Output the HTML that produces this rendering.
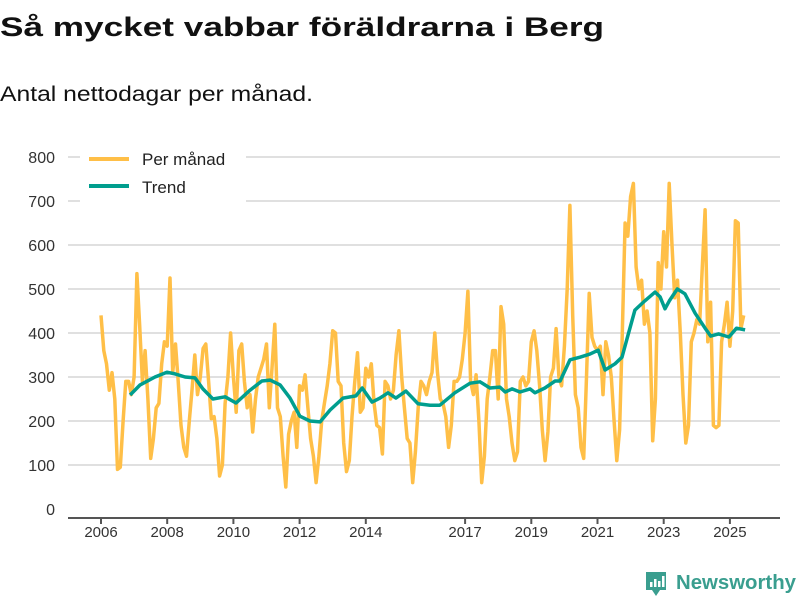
<!DOCTYPE html>
<html><head><meta charset="utf-8"><style>
body{margin:0;background:#fff;}
svg{display:block;font-family:"Liberation Sans",sans-serif;}
</style></head><body>
<svg id="chart" width="800" height="600" viewBox="0 0 800 600">
<text x="0" y="36" font-size="27" font-weight="bold" fill="#111" textLength="604" lengthAdjust="spacingAndGlyphs">Så mycket vabbar föräldrarna i Berg</text>
<text x="0" y="101" font-size="21" fill="#111" textLength="313" lengthAdjust="spacingAndGlyphs">Antal nettodagar per månad.</text>
<g id="grid"></g>
<g id="yticks"></g>
<g id="xaxis"></g>
<g id="series"></g>
<g>
<rect x="80" y="146" width="166" height="58" fill="#fff"/>
<g>
<line x1="89" y1="159" x2="129" y2="159" stroke="#ffbf47" stroke-width="4"/>
<text x="142" y="165" font-size="17" fill="#222">Per månad</text></g>
<g>
<line x1="89" y1="186" x2="129" y2="186" stroke="#009e8e" stroke-width="4"/>
<text x="142" y="193" font-size="17" fill="#222">Trend</text></g>
</g>
<g>
<path d="M646 572 h20 v18 h-6 l-4 6 l-4 -6 h-6 z" fill="#3a9e8f"/>
<rect x="650" y="582" width="2.5" height="5" fill="#fff"/><rect x="654" y="579" width="2.5" height="8" fill="#fff"/><rect x="658" y="581" width="2.5" height="6" fill="#fff"/><rect x="662" y="576" width="2.5" height="11" fill="#fff"/>
<text x="676" y="589" font-size="20" font-weight="bold" fill="#3a9e8f" textLength="120" lengthAdjust="spacingAndGlyphs">Newsworthy</text>
</g>
</svg>
<script>
const yTicks=[0,100,200,300,400,500,600,700,800];
const xTickYears=[2006,2008,2010,2012,2014,2017,2019,2021,2023,2025];
const startYear=2006;
const monthly=[
440,360,330,270,310,250,90,95,200,290,290,260,
300,535,420,290,360,250,115,160,230,240,330,380,
370,525,310,375,290,190,140,120,200,270,350,260,
300,365,375,290,205,210,160,75,100,240,300,400,
300,220,360,375,290,230,260,175,250,300,320,340,
375,230,320,420,230,210,120,50,170,200,220,140,
280,270,305,230,160,120,60,120,200,240,280,330,
405,400,290,280,150,85,110,210,290,355,220,230,
320,300,330,240,190,185,125,290,280,250,270,350,
405,300,230,160,150,60,130,230,290,280,260,290,
310,400,310,250,240,210,140,190,290,290,300,340,
400,495,290,260,305,200,60,120,250,300,360,360,
250,460,420,250,210,150,110,130,290,300,280,290,
380,405,360,280,180,110,175,300,320,410,300,280,
370,500,690,440,260,230,140,115,300,490,390,370,
360,370,260,380,350,300,200,110,180,400,650,620,
710,740,550,500,520,420,450,400,155,250,560,500,
630,550,740,600,480,520,400,260,150,190,380,400,
430,420,550,680,380,470,190,185,190,380,420,470,
370,450,655,650,410,440];
const trendDates=[2006.88,2007.18,2007.63,2007.99,2008.24,2008.54,2008.84,2009.08,2009.38,2009.75,2010.08,2010.5,2010.86,2011.11,2011.41,2011.71,2012.01,2012.31,2012.62,2012.92,2013.31,2013.7,2013.89,2014.19,2014.43,2014.67,2014.91,2015.21,2015.58,2015.94,2016.24,2016.69,2017.15,2017.45,2017.75,2018.05,2018.21,2018.42,2018.66,2018.96,2019.11,2019.41,2019.72,2019.87,2020.17,2020.47,2020.77,2021.02,2021.23,2021.53,2021.74,2021.92,2022.13,2022.43,2022.74,2022.89,2023.04,2023.17,2023.41,2023.64,2023.95,2024.25,2024.42,2024.66,2024.97,2025.2,2025.46];
const trendValues=[259,282,300,311,307,300,298,273,250,255,241,270,291,293,282,252,211,200,198,225,252,257,275,243,252,264,252,268,239,236,236,264,286,289,275,277,266,273,266,273,264,275,291,291,339,345,352,361,316,330,345,395,452,473,493,482,455,473,500,489,445,411,393,398,391,411,407];
const NS='http://www.w3.org/2000/svg';
function xs(yr){return 101+(yr-2006)*33.1;}
function ys(v){return 509-v*0.44;}
function mk(tag,attrs,parent){const e=document.createElementNS(NS,tag);for(const k in attrs)e.setAttribute(k,attrs[k]);parent.appendChild(e);return e;}
const grid=document.getElementById('grid'),yt=document.getElementById('yticks'),xa=document.getElementById('xaxis'),se=document.getElementById('series');
yTicks.forEach(v=>{
 if(v>0){const l=mk('line',{x1:68,x2:780,y1:ys(v),y2:ys(v),stroke:'#e0e0e0','stroke-width':2},grid);
 
 }
 const t=mk('text',{x:55,y:ys(v)+6,'font-size':16,'text-anchor':'end',fill:'#333'},yt);
 t.textContent=v;
 
 
});
const ax=mk('line',{x1:68,x2:780,y1:518,y2:518,stroke:'#555','stroke-width':2},xa);


xTickYears.forEach(y=>{
 const x=xs(y);
 mk('line',{x1:x,x2:x,y1:518,y2:524,stroke:'#555','stroke-width':2},xa);
 const t=mk('text',{x:x,y:537,'font-size':15,'text-anchor':'middle',fill:'#333'},xa);
 t.textContent=y;
 
 
});
const pm=mk('polyline',{points:monthly.map((v,i)=>xs(startYear+i/12).toFixed(1)+','+ys(v).toFixed(1)).join(' '),fill:'none',stroke:'#ffbf47','stroke-width':3.5,'stroke-linejoin':'round'},se);


const tr=mk('polyline',{points:trendValues.map((v,i)=>xs(trendDates[i]).toFixed(1)+','+ys(v).toFixed(1)).join(' '),fill:'none',stroke:'#009e8e','stroke-width':3.5,'stroke-linejoin':'round'},se);


</script>
</body></html>
